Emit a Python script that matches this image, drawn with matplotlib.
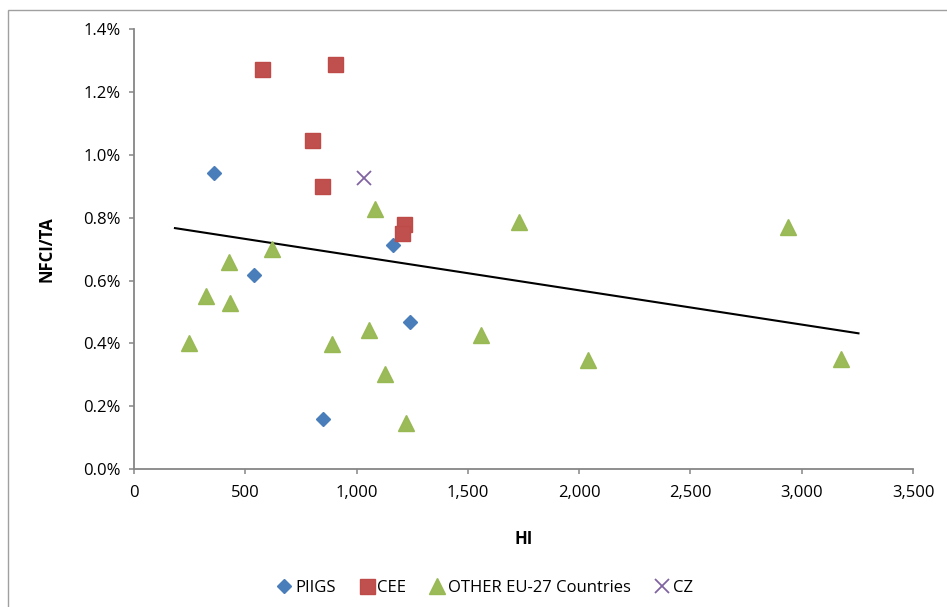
import matplotlib
matplotlib.use("Agg")
import matplotlib.pyplot as plt
from matplotlib.ticker import FuncFormatter
from matplotlib.patches import Rectangle

# Data (HI, NFCI/TA in %)
piigs_x = [358, 539, 1163, 1239, 849]
piigs_y = [0.944, 0.618, 0.713, 0.469, 0.158]

cee_x = [573, 901, 799, 844, 1212, 1203]
cee_y = [1.273, 1.289, 1.049, 0.902, 0.780, 0.751]

other_x = [247, 325, 428, 433, 618, 889, 1054, 1081, 1129, 1221, 1558, 1729, 2040, 2938, 3175]
other_y = [0.400, 0.551, 0.660, 0.530, 0.701, 0.398, 0.444, 0.828, 0.302, 0.147, 0.427, 0.786, 0.347, 0.770, 0.350]

cz_x = [1034]
cz_y = [0.926]

trend_x = [184, 3255]
trend_y = [0.767, 0.432]

x_ticks = [0, 500, 1000, 1500, 2000, 2500, 3000, 3500]
y_ticks = [0.0, 0.2, 0.4, 0.6, 0.8, 1.0, 1.2, 1.4]

font = ["Open Sans", "DejaVu Sans"]
plt.rcParams['font.family'] = font

fig = plt.figure(figsize=(9.47, 6.07), dpi=100)
ax = fig.add_axes([134/947, 1-469/607, (913-134)/947, (469-29.3)/607])

# outer chart frame (cropped)
fig.patches.append(Rectangle((8/947, -0.1), 1.2, 1.1 - 10/607, transform=fig.transFigure,
                             fill=False, edgecolor="#A0A0A0", linewidth=1.0, zorder=0))

ax.plot(trend_x, trend_y, color="black", linewidth=1.5, zorder=2, label="_nolegend_")
ax.plot(piigs_x, piigs_y, linestyle="none", marker="D", ms=7.4, color="#4A7EBB",
        markeredgecolor="#4A7EBB", label="PIIGS", zorder=3)
ax.plot(cee_x, cee_y, linestyle="none", marker="s", ms=10.8, color="#C0504D",
        markeredgecolor="#BE4B48", label="CEE", zorder=3)
ax.plot(other_x, other_y, linestyle="none", marker="^", ms=11.5, color="#9BBB59",
        markeredgecolor="#98B954", label="OTHER EU-27 Countries", zorder=3)
ax.plot(cz_x, cz_y, linestyle="none", marker="x", ms=9.5, markeredgewidth=1.3,
        color="#8064A2", label="CZ", zorder=3)

ax.set_xlim(0, 3500)
ax.set_ylim(0, 1.4)
ax.set_xticks(x_ticks)
ax.set_yticks(y_ticks)
ax.xaxis.set_major_formatter(FuncFormatter(lambda v, p: f"{int(v):,}"))
ax.yaxis.set_major_formatter(FuncFormatter(lambda v, p: f"{v:.1f}%"))

for s in ["top", "right"]:
    ax.spines[s].set_visible(False)
for s in ["left", "bottom"]:
    ax.spines[s].set_color("#868686")
    ax.spines[s].set_linewidth(1.3)
ax.tick_params(axis="both", direction="out", length=3.5, width=1.1, color="#868686",
               labelsize=12, labelcolor="black")
ax.tick_params(axis="x", pad=8)
ax.tick_params(axis="y", pad=6)

ax.set_xlabel("HI", fontsize=12, fontweight="bold", labelpad=21)
ax.set_ylabel("NFCI/TA", fontsize=12, fontweight="bold", labelpad=20)

fig.legend(loc="center", bbox_to_anchor=(484/947, 1-588/607), ncol=4, frameon=False,
           fontsize=12, handletextpad=0.1, columnspacing=1.3, handlelength=1.1,
           numpoints=1)

fig.savefig("out.png", dpi=100)
